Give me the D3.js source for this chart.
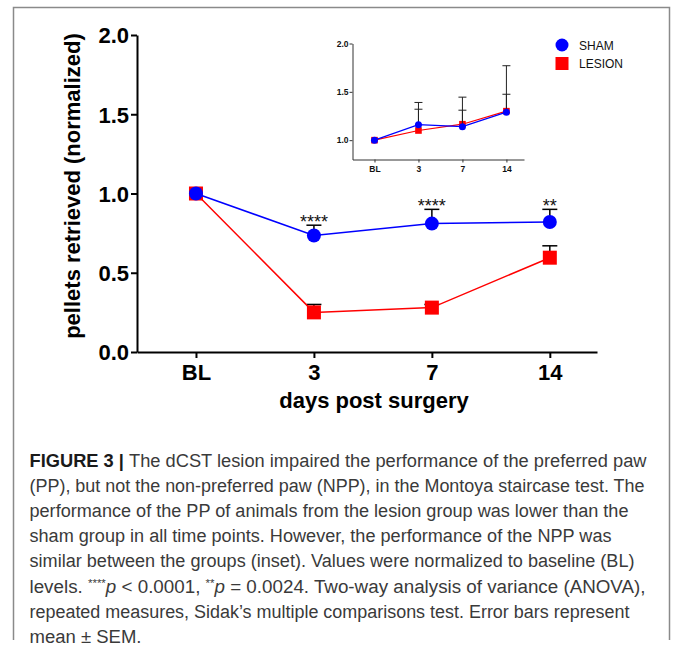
<!DOCTYPE html>
<html>
<head>
<meta charset="utf-8">
<script src="https://cdn.jsdelivr.net/npm/d3@7"></script>
<style>
  body { margin: 0; background: #fff; }
  svg { display: block; }
</style>
</head>
<body>
<div id="main"></div>
<script>
// data
var days = ["BL", "3", "7", "14"];
var shamPP = [1.0, 0.735, 0.81, 0.82];
var shamPPErr = [1.0, 0.80, 0.90, 0.90];
var lesionPP = [1.0, 0.25, 0.28, 0.595];
var lesionPPErr = [1.0, 0.30, 0.30, 0.67];
var stars = ["****", "****", "**"];
var shamNPP = [1.0, 1.16, 1.14, 1.29];
var shamNPPErr = [1.0, 1.39, 1.445, 1.77];
var lesionNPP = [1.0, 1.10, 1.165, 1.30];
var lesionNPPErr = [1.0, 1.32, 1.31, 1.475];
var yTicks = [0, 0.5, 1.0, 1.5, 2.0];
var insetTicks = [1.0, 1.5, 2.0];
var captionLines = [
    "The dCST lesion impaired the performance of the preferred paw",
    "(PP), but not the non-preferred paw (NPP), in the Montoya staircase test. The",
    "performance of the PP of animals from the lesion group was lower than the",
    "sham group in all time points. However, the performance of the NPP was",
    "similar between the groups (inset). Values were normalized to baseline (BL)",
    "",
    "repeated measures, Sidak\u2019s multiple comparisons test. Error bars represent",
    "mean \u00b1 SEM."
];
var captionWidths = [617, 615, 599, 582, 605, 616, 600, 112];

var ctx = { w: 673, h: 649 };
var blue = "#0000ff", red = "#ff0000";
var bold = "'Liberation Sans', Arial, Helvetica, sans-serif";

var svg = d3.select("#main").append("svg")
    .attr("width", ctx.w).attr("height", ctx.h);

// frame (open at the bottom)
svg.append("path")
    .attr("d", "M13.5,640 V7.5 H669.5 V640")
    .attr("fill", "none").attr("stroke", "#8a8a8a").attr("stroke-width", 1.5);

// ---------- main chart ----------
var x = d3.scaleLinear().domain([-0.5, 3.4]).range([137, 597]);
var y = d3.scaleLinear().domain([0, 2]).range([352, 35]);
var idx = d3.range(days.length);

var xAxis = svg.append("g")
    .attr("transform", "translate(0," + y(0) + ")")
    .call(d3.axisBottom(x).tickValues(idx).tickFormat(function (i) { return days[i]; })
        .tickSize(6).tickPadding(6).tickSizeOuter(0));
var yAxis = svg.append("g")
    .attr("transform", "translate(" + x(-0.5) + ",0)")
    .call(d3.axisLeft(y).tickValues(yTicks).tickFormat(d3.format(".1f"))
        .tickSize(6).tickPadding(2).tickSizeOuter(0));
[xAxis, yAxis].forEach(function (g) {
    g.select(".domain").attr("stroke", "#000").attr("stroke-width", 2);
    g.selectAll(".tick line").attr("stroke", "#000").attr("stroke-width", 2);
    g.selectAll(".tick text").attr("fill", "#000")
        .style("font", "bold 22px " + bold);
});
yAxis.selectAll(".tick text").attr("dy", "0.36em");

svg.append("text")
    .attr("x", 374).attr("y", 408).attr("text-anchor", "middle")
    .style("font", "bold 22px " + bold)
    .text("days post surgery");
svg.append("text")
    .attr("transform", "translate(80,186) rotate(-90)")
    .attr("text-anchor", "middle")
    .style("font", "bold 22px " + bold)
    .text("pellets retrieved (normalized)");

function drawSeries(g, xs, ys, vals, errs, color, shape, r, lw, errColor, capW, errW) {
    // error bars (upper only)
    idx.forEach(function (i) {
        if (errs[i] <= vals[i]) return;
        g.append("line")
            .attr("x1", xs(i)).attr("x2", xs(i))
            .attr("y1", ys(vals[i])).attr("y2", ys(errs[i]))
            .attr("stroke", errColor).attr("stroke-width", errW);
        g.append("line")
            .attr("x1", xs(i) - capW / 2).attr("x2", xs(i) + capW / 2)
            .attr("y1", ys(errs[i])).attr("y2", ys(errs[i]))
            .attr("stroke", errColor).attr("stroke-width", errW);
    });
    var line = d3.line().x(function (i) { return xs(i); }).y(function (i) { return ys(vals[i]); });
    g.append("path").datum(idx).attr("d", line)
        .attr("fill", "none").attr("stroke", color).attr("stroke-width", lw);
    if (shape === "circle") {
        g.selectAll(null).data(idx).enter().append("circle")
            .attr("cx", function (i) { return xs(i); })
            .attr("cy", function (i) { return ys(vals[i]); })
            .attr("r", r).attr("fill", color);
    } else {
        g.selectAll(null).data(idx).enter().append("rect")
            .attr("x", function (i) { return xs(i) - r; })
            .attr("y", function (i) { return ys(vals[i]) - r; })
            .attr("width", 2 * r).attr("height", 2 * r).attr("fill", color);
    }
}

var plot = svg.append("g");
drawSeries(plot, x, y, lesionPP, lesionPPErr, red, "square", 7, 1.5, "#000", 15, 1.5);
drawSeries(plot, x, y, shamPP, shamPPErr, blue, "circle", 7, 1.5, "#000", 15, 1.5);

plot.selectAll(".star").data(stars).enter().append("text")
    .attr("class", "star")
    .attr("x", function (d, i) { return x(i + 1); })
    .attr("y", function (d, i) { return y(shamPPErr[i + 1]) + 3; })
    .attr("text-anchor", "middle")
    .attr("fill", "#111")
    .style("font", "18px " + bold)
    .text(function (d) { return d; });

// ---------- inset ----------
var xi = d3.scaleLinear().domain([-0.5, 3.4]).range([352.5, 524]);
var yi = d3.scaleLinear().domain([0.8, 2.0]).range([159.5, 43.5]);

var ixAxis = svg.append("g")
    .attr("transform", "translate(0," + yi(0.8) + ")")
    .call(d3.axisBottom(xi).tickValues(idx).tickFormat(function (i) { return days[i]; })
        .tickSize(3).tickPadding(3).tickSizeOuter(0));
var iyAxis = svg.append("g")
    .attr("transform", "translate(" + xi(-0.5) + ",0)")
    .call(d3.axisLeft(yi).tickValues(insetTicks).tickFormat(d3.format(".1f"))
        .tickSize(3).tickPadding(1).tickSizeOuter(0));
[ixAxis, iyAxis].forEach(function (g) {
    g.select(".domain").attr("stroke", "#333").attr("stroke-width", 1);
    g.selectAll(".tick line").attr("stroke", "#333").attr("stroke-width", 1);
    g.selectAll(".tick text").attr("fill", "#111")
        .style("font", "bold 8.5px " + bold);
});

var inset = svg.append("g");
drawSeries(inset, xi, yi, lesionNPP, lesionNPPErr, red, "square", 3.3, 1.2, "#222", 8, 1);
drawSeries(inset, xi, yi, shamNPP, shamNPPErr, blue, "circle", 3.5, 1.2, "#222", 8, 1);

// legend
var legend = svg.append("g");
legend.append("circle").attr("cx", 562).attr("cy", 45).attr("r", 6.5).attr("fill", blue);
legend.append("rect").attr("x", 555.5).attr("y", 57).attr("width", 13).attr("height", 13).attr("fill", red);
legend.append("text").attr("x", 579).attr("y", 49.5)
    .style("font", "12px " + bold).attr("fill", "#111").text("SHAM");
legend.append("text").attr("x", 579).attr("y", 68)
    .style("font", "12px " + bold).attr("fill", "#111").text("LESION");

// ---------- caption ----------
var capFont = "'Liberation Sans Narrow', 'Arial Narrow', 'Liberation Sans', sans-serif";
var cap = svg.append("g").style("font", "18px " + capFont).attr("fill", "#3a3a3a");
captionLines.forEach(function (s, i) {
    var t = cap.append("text")
        .attr("x", 29.5).attr("y", 467 + i * 25.1)
        .attr("textLength", captionWidths[i]).attr("lengthAdjust", "spacingAndGlyphs");
    if (i === 0) {
        t.append("tspan").style("font-weight", "bold").attr("fill", "#1a1a1a").text("FIGURE 3 | ");
        t.append("tspan").text(s);
    } else if (i === 5) {
        t.append("tspan").text("levels. ");
        t.append("tspan").style("font-size", "11px").attr("dy", -6).text("****");
        t.append("tspan").style("font-style", "italic").attr("dy", 6).text("p");
        t.append("tspan").text(" < 0.0001, ");
        t.append("tspan").style("font-size", "11px").attr("dy", -6).text("**");
        t.append("tspan").style("font-style", "italic").attr("dy", 6).text("p");
        t.append("tspan").text(" = 0.0024. Two-way analysis of variance (ANOVA),");
    } else {
        t.text(s);
    }
});
</script>
</body>
</html>
